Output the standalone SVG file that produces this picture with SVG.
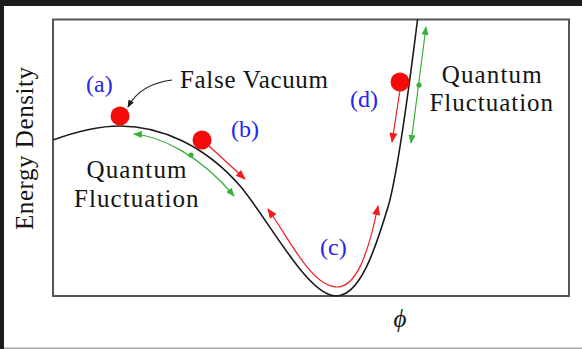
<svg xmlns="http://www.w3.org/2000/svg" width="582" height="349" viewBox="0 0 582 349">
<style>
.t{font-family:"Liberation Serif","DejaVu Serif",serif;font-size:25px;fill:#141414}
.lb{font-family:"Liberation Serif","DejaVu Serif",serif;font-size:24px;fill:#2424ee}
.ball{fill:#f50a0a}
.red{fill:none;stroke:#f21c1c;stroke-width:1.2}
.grn{fill:none;stroke:#38b038;stroke-width:1.2}
</style>
<defs>
<marker id="mr" viewBox="0 0 10 8" refX="9" refY="4" markerWidth="11" markerHeight="8" orient="auto-start-reverse" markerUnits="userSpaceOnUse"><path d="M0,0 L10,4 L0,8 z" fill="#f21c1c"/></marker>
<marker id="mg" viewBox="0 0 10 8" refX="9" refY="4" markerWidth="10" markerHeight="7" orient="auto-start-reverse" markerUnits="userSpaceOnUse"><path d="M0,0 L10,4 L0,8 z" fill="#38b038"/></marker>
<marker id="mk" viewBox="0 0 10 8" refX="9" refY="4" markerWidth="8" markerHeight="6" orient="auto" markerUnits="userSpaceOnUse"><path d="M0,0 L10,4 L0,8 z" fill="#1a1a1a"/></marker>
</defs>
<rect width="582" height="349" fill="#ffffff"/>
<rect x="0" y="0" width="582" height="6" fill="#1c1c1c"/>
<rect x="0" y="0" width="4" height="349" fill="#1c1c1c"/>
<rect x="4" y="347.5" width="578" height="1.5" fill="#a8a8a8"/>
<g id="frame">
<rect x="53" y="19.5" width="516" height="276.5" fill="none" stroke="#555" stroke-width="2"/>
</g>
<g id="potential">
<path d="M53,140 C75,132 98,126 120,126 C160,126 205,145 241,187 C270,222 308,296 336,296 C360,296 375,250 388,207 C397,177 410,80 417.6,19" fill="none" stroke="#1a1a1a" stroke-width="1.6"/>
</g>
<g id="connectors">
<path d="M172,80 Q140,84 128,107" fill="none" stroke="#1a1a1a" stroke-width="1.2" marker-end="url(#mk)"/>
<path class="grn" d="M134,134 C160,136 200,155 234,196" marker-start="url(#mg)" marker-end="url(#mg)"/>
<path class="red" d="M209,146 L245,179" marker-end="url(#mr)"/>
<path class="red" d="M268,209 C290,240 312,287 337,287 C356,287 368,255 378,206" marker-start="url(#mr)" marker-end="url(#mr)"/>
<path class="red" d="M400,90 L392,142" marker-end="url(#mr)"/>
<path class="grn" d="M426,27 L411,143" marker-start="url(#mg)" marker-end="url(#mg)"/>
<circle cx="191" cy="155" r="2.6" fill="#38b038"/>
<circle cx="419" cy="85" r="2.6" fill="#38b038"/>
</g>
<g id="ball-a"><circle class="ball" cx="120" cy="116" r="9.5"/><text class="lb" x="86" y="92">(a)</text></g>
<g id="ball-b"><circle class="ball" cx="202" cy="140" r="9.5"/><text class="lb" x="231" y="137">(b)</text></g>
<g id="label-c"><text class="lb" x="320" y="255">(c)</text></g>
<g id="ball-d"><circle class="ball" cx="400" cy="82" r="9.5"/><text class="lb" x="350" y="107">(d)</text></g>
<g id="false-vacuum"><text class="t" x="180" y="88" textLength="148">False Vacuum</text></g>
<g id="qf-left"><text class="t" x="86.5" y="178" textLength="100">Quantum</text><text class="t" x="74" y="207" textLength="124.5">Fluctuation</text></g>
<g id="qf-right"><text class="t" x="441.7" y="83" textLength="100">Quantum</text><text class="t" x="429.5" y="111" textLength="123.5">Fluctuation</text></g>
<g id="axis-y"><text class="t" transform="translate(33,148.5) rotate(-90)" text-anchor="middle" textLength="163">Energy Density</text></g>
<g id="axis-x"><text class="t" x="400" y="327" text-anchor="middle" font-style="italic">&#x3D5;</text></g>
</svg>
